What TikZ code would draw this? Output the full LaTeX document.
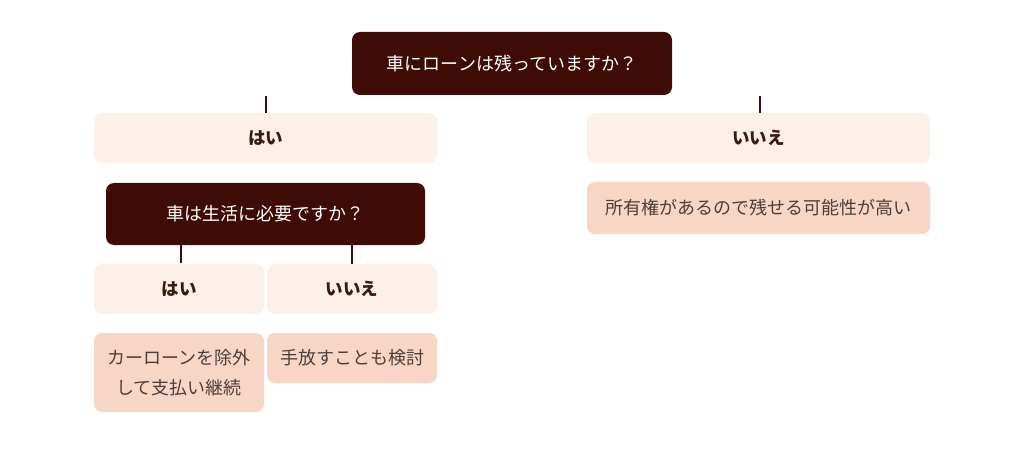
\documentclass[tikz,border=0pt]{standalone}
\usepackage{fontspec}
\setmainfont{Noto Sans CJK JP}
\definecolor{darkq}{HTML}{3E0C04}
\definecolor{lightans}{HTML}{FDF0E8}
\definecolor{resfill}{HTML}{F8D6C6}
\definecolor{anstext}{HTML}{3B1A12}
\definecolor{restext}{HTML}{4D3E3A}
\begin{document}
\begin{tikzpicture}[x=1pt,y=-1pt,
  qbox/.style={fill=darkq,text=white,rounded corners=8pt,inner sep=0pt,align=center,font=\fontsize{18}{24}\selectfont},
  ansbox/.style={fill=lightans,text=anstext,rounded corners=8pt,inner sep=0pt,align=center,font=\fontsize{17.5}{22}\selectfont\bfseries},
  resbox/.style={fill=resfill,text=restext,rounded corners=8pt,inner sep=0pt,align=center,font=\fontsize{18}{30}\selectfont},
  conn/.style={draw=darkq,line width=2pt}]
\useasboundingbox (0,0) rectangle (1024,462);
\fill[white] (0,0) rectangle (1024,462);
\node[qbox,minimum width=320pt,minimum height=63pt] (q1) at (512,63.5) {車にローンは残っていますか？};
\node[ansbox,minimum width=343pt,minimum height=50pt] (y1) at (265.5,138) {はい};
\node[ansbox,minimum width=343pt,minimum height=50pt] (n1) at (758.5,138) {いいえ};
\node[qbox,minimum width=319pt,minimum height=62pt] (q2) at (265.5,214) {車は生活に必要ですか？};
\node[ansbox,minimum width=170pt,minimum height=50pt] (y2) at (179,289) {はい};
\node[ansbox,minimum width=170pt,minimum height=50pt] (n2) at (352,289) {いいえ};
\node[resbox,minimum width=170pt,minimum height=79pt] (r1) at (179,372.5) {カーローンを除外\\して支払い継続};
\node[resbox,minimum width=170pt,minimum height=50pt] (r2) at (352,358) {手放すことも検討};
\node[resbox,minimum width=343pt,minimum height=52pt] (r3) at (758.5,208) {所有権があるので残せる可能性が高い};
\coordinate (s1) at (265.5,96);
\coordinate (s2) at (759.5,96);
\draw[conn] (s1) -- (y1.north);
\draw[conn] (s2) -- (s2 |- n1.north);
\draw[conn] (q2.south -| 181,0) -- (181,263);
\draw[conn] (q2.south -| n2.north) -- (n2.north);
\end{tikzpicture}
\end{document}
